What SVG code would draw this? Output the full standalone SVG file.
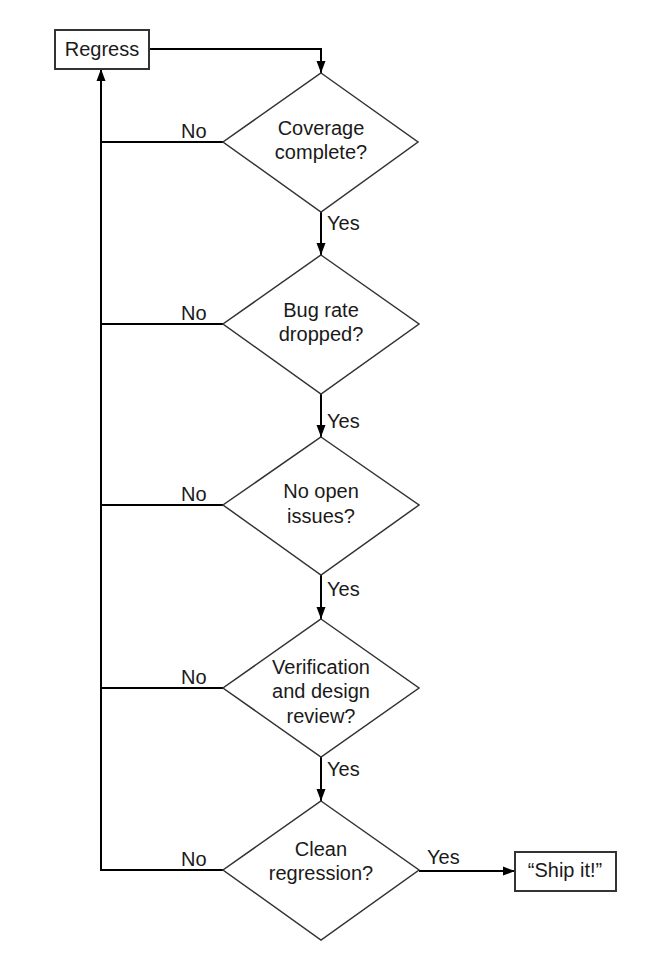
<svg xmlns="http://www.w3.org/2000/svg" width="670" height="969" viewBox="0 0 670 969">
<defs>
<marker id="arr" viewBox="0 0 12 10" refX="12" refY="5" markerWidth="12" markerHeight="10" markerUnits="userSpaceOnUse" orient="auto">
<path d="M0,0.5 L12,5 L0,9.5 Z" fill="#000"/>
</marker>
<style>
text{font-family:"Liberation Sans",Arial,sans-serif;font-size:20px;fill:#1a1a1a}
.c{text-anchor:middle}
.dia{fill:#fff;stroke:#333;stroke-width:1.5}
.box{fill:#fff;stroke:#333;stroke-width:2}
.ln{fill:none;stroke:#000;stroke-width:2}
</style>
</defs>
<rect width="670" height="969" fill="#fff"/>
<g id="connectors">
<polyline class="ln" points="149,49 321,49 321,73" marker-end="url(#arr)"/>
<line class="ln" x1="321" y1="212" x2="321" y2="255" marker-end="url(#arr)"/>
<line class="ln" x1="321" y1="394" x2="321" y2="437" marker-end="url(#arr)"/>
<line class="ln" x1="321" y1="575" x2="321" y2="619" marker-end="url(#arr)"/>
<line class="ln" x1="321" y1="757" x2="321" y2="801" marker-end="url(#arr)"/>
<line class="ln" x1="419" y1="871" x2="515" y2="871" marker-end="url(#arr)"/>
<polyline class="ln" points="223,870 101,870 101,69" marker-end="url(#arr)"/>
<line class="ln" x1="101" y1="142" x2="223" y2="142"/>
<line class="ln" x1="101" y1="324" x2="223" y2="324"/>
<line class="ln" x1="101" y1="505" x2="223" y2="505"/>
<line class="ln" x1="101" y1="688" x2="223" y2="688"/>
<text x="181" y="138">No</text>
<text x="181" y="320">No</text>
<text x="181" y="501">No</text>
<text x="181" y="684">No</text>
<text x="181" y="866">No</text>
<text x="327" y="230">Yes</text>
<text x="327" y="428">Yes</text>
<text x="327" y="596">Yes</text>
<text x="327" y="776">Yes</text>
<text x="427" y="864">Yes</text>
</g>
<g id="regress">
<rect class="box" x="55" y="30" width="94" height="39"/>
<text class="c" x="102" y="56">Regress</text>
</g>
<g id="coverage">
<polygon class="dia" points="321,73 418,142 321,212 223,142"/>
<text class="c" x="321" y="135">Coverage</text>
<text class="c" x="321" y="159">complete?</text>
</g>
<g id="bugrate">
<polygon class="dia" points="321,255 419,324 321,394 223,324"/>
<text class="c" x="321" y="317">Bug rate</text>
<text class="c" x="321" y="341">dropped?</text>
</g>
<g id="openissues">
<polygon class="dia" points="321,437 419,505 321,575 223,505"/>
<text class="c" x="321" y="498">No open</text>
<text class="c" x="321" y="523">issues?</text>
</g>
<g id="review">
<polygon class="dia" points="321,619 419,688 321,757 223,688"/>
<text class="c" x="321" y="674">Verification</text>
<text class="c" x="321" y="698">and design</text>
<text class="c" x="321" y="723">review?</text>
</g>
<g id="clean">
<polygon class="dia" points="321,801 419,870 321,940 223,870"/>
<text class="c" x="321" y="856">Clean</text>
<text class="c" x="321" y="880">regression?</text>
</g>
<g id="ship">
<rect class="box" x="515" y="852" width="101" height="39"/>
<text class="c" x="565" y="877">“Ship it!”</text>
</g>
</svg>
